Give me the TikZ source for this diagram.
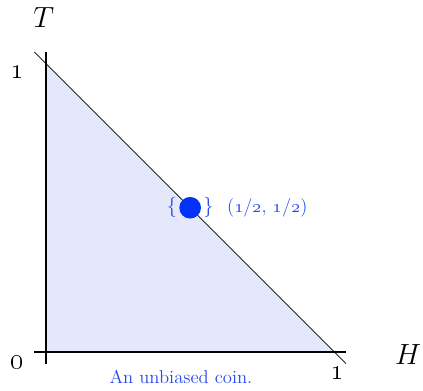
\documentclass[tikz,border=0pt]{standalone}
\usepackage{xcolor}
\usepackage{tikz}
\usetikzlibrary{positioning, calc}
\definecolor{simplexfill}{RGB}{228,232,250}
\definecolor{coinblue}{RGB}{40,72,240}
\definecolor{dotblue}{RGB}{5,50,250}

\begin{document}
\begin{tikzpicture}[
    x=6cm, y=6cm,
    axis/.style={draw, line width=1.1pt},
    edge/.style={draw, line width=0.5pt},
    tick/.style={font=\LARGE\bfseries, inner sep=1pt},
    var/.style={font=\LARGE, inner sep=1pt},
    note/.style={font=\fontsize{11}{13}\selectfont, text=coinblue, inner sep=1pt},
    point/.style={circle, fill=dotblue, minimum size=0.45cm, inner sep=0pt}
  ]
  \useasboundingbox (-0.159,-0.132) rectangle (1.307,1.220);

  \coordinate (origin) at (0,0);
  \coordinate (hcorner) at (1,0);
  \coordinate (tcorner) at (0,1);

  % simplex of coin biases
  \fill[simplexfill] (origin) -- (hcorner) -- (tcorner) -- cycle;

  \coordinate (hstart) at (-0.04,0);
  \coordinate (hend) at (1.04,0);
  \coordinate (tstart) at (0,-0.04);
  \coordinate (tend) at (0,1.04);
  \coordinate (edgetop) at (-0.04,1.04);
  \coordinate (edgebottom) at (1.04,-0.04);

  \draw[axis] (hstart) -- (hend);
  \draw[axis] (tstart) -- (tend);
  \draw[edge] (edgetop) -- (edgebottom);

  \node[var] (tlabel) at (-0.007,1.158) {$T$};
  \node[var] (hlabel) at (1.255,-0.01) {$H$};
  \node[tick] (tone) at (-0.10,0.97) {\oldstylenums{1}};
  \node[tick] (zero) at (-0.10,-0.035) {\oldstylenums{0}};
  \node[tick] (hone) at (1.009,-0.073) {\oldstylenums{1}};

  \node[point] (fair) at (0.5,0.5) {};
  \node[note, font=\fontsize{13}{15}\selectfont, left=0pt of fair] (lbrace) {$\{$};
  \node[note, font=\fontsize{13}{15}\selectfont, right=0pt of fair] (rbrace) {$\}$};
  \node[note, right=0.2cm of rbrace] (coords) {(\oldstylenums{1}/\oldstylenums{2}, \oldstylenums{1}/\oldstylenums{2})};

  \node[note] (caption) at (0.468,-0.087) {An unbiased coin.};
\end{tikzpicture}
\end{document}
